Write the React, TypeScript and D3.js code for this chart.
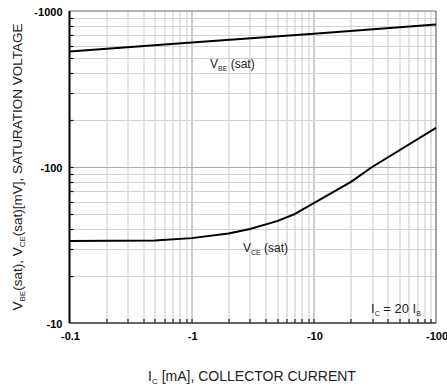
import { useCallback, useEffect, useRef } from 'react';

import { line, scaleLog, select } from 'd3';

// axis ticks
const xTicks = [0.1, 1, 10, 100];
const xTickLabels = ['-0.1', '-1', '-10', '-100'];
const yTicks = [10, 100, 1000];
const yTickLabels = ['-10', '-100', '-1000'];

// V_BE(sat) curve, I_C [mA] vs mV
const vbeCurrent = [0.1, 1, 10, 100];
const vbeVoltage = [550, 628, 715, 820];

// V_CE(sat) curve, I_C [mA] vs mV
const vceCurrent = [0.1, 0.5, 1, 2, 3, 5, 7, 20, 30, 100];
const vceVoltage = [33.6, 33.8, 35, 37.5, 40, 45, 50, 80, 100, 178];

export default function App() {
  const containerRef = useRef<HTMLDivElement>(null);

  const initChart = useCallback(() => {
    const container = containerRef.current;
    if (!container) return;

    const div = select(container);
    div.select('svg').remove();

    const W = 447,
      H = 389;
    const margin = { top: 11, right: 11, bottom: 66, left: 69.5 };
    const width = W - margin.left - margin.right,
      height = H - margin.top - margin.bottom;

    const svg = div
      .append('svg')
      .attr('width', W)
      .attr('height', H)
      .style('position', 'absolute')
      .style('left', '0px')
      .style('top', '0px')
      .style('font-family', '"Liberation Sans", Arial, sans-serif');

    svg.append('rect').attr('width', W).attr('height', H).attr('fill', 'white');

    const g = svg
      .append('g')
      .attr('transform', `translate(${margin.left},${margin.top})`);

    const x = scaleLog().domain([0.1, 100]).range([0, width]);
    const y = scaleLog().domain([10, 1000]).range([height, 0]);

    const xMinor = x.ticks();
    const yMinor = y.ticks();
    const isMajor = (v: number) => Math.abs(Math.log10(v) - Math.round(Math.log10(v))) < 1e-6;

    // grid
    g.append('g')
      .selectAll('line')
      .data(xMinor.filter((v) => v > 0.1 && v < 100))
      .join('line')
      .attr('x1', (d) => Math.round(x(d)) + 0.5)
      .attr('x2', (d) => Math.round(x(d)) + 0.5)
      .attr('y1', 0)
      .attr('y2', height)
      .attr('stroke', (d) => (isMajor(d) ? '#aaaaaa' : '#d2d2d2'))
      .attr('stroke-width', 1.2);

    g.append('g')
      .selectAll('line')
      .data(yMinor.filter((v) => v > 10 && v < 1000))
      .join('line')
      .attr('y1', (d) => Math.round(y(d)) + 0.5)
      .attr('y2', (d) => Math.round(y(d)) + 0.5)
      .attr('x1', 0)
      .attr('x2', width)
      .attr('stroke', (d) => (isMajor(d) ? '#aaaaaa' : '#d2d2d2'))
      .attr('stroke-width', 1.2);

    // frame
    g.append('line')
      .attr('x1', 0).attr('x2', width).attr('y1', 0).attr('y2', 0)
      .attr('stroke', '#999').attr('stroke-width', 1.5);
    g.append('line')
      .attr('x1', width).attr('x2', width).attr('y1', 0).attr('y2', height)
      .attr('stroke', '#888').attr('stroke-width', 1.5);
    g.append('line')
      .attr('x1', 0).attr('x2', width).attr('y1', height).attr('y2', height)
      .attr('stroke', '#666').attr('stroke-width', 2);
    g.append('line')
      .attr('x1', 0).attr('x2', 0).attr('y1', 0).attr('y2', height)
      .attr('stroke', '#000').attr('stroke-width', 2);

    // inner ticks
    g.append('g')
      .selectAll('line')
      .data(xMinor.filter((v) => v > 0.1 && v < 100))
      .join('line')
      .attr('x1', (d) => Math.round(x(d)) + 0.5)
      .attr('x2', (d) => Math.round(x(d)) + 0.5)
      .attr('y1', height)
      .attr('y2', height - 4)
      .attr('stroke', '#222')
      .attr('stroke-width', 1.2);

    g.append('g')
      .selectAll('line')
      .data(yMinor.filter((v) => v > 10 && v < 1000))
      .join('line')
      .attr('y1', (d) => Math.round(y(d)) + 0.5)
      .attr('y2', (d) => Math.round(y(d)) + 0.5)
      .attr('x1', 0)
      .attr('x2', 4)
      .attr('stroke', '#111')
      .attr('stroke-width', 1.2);

    // tick labels
    g.append('g')
      .selectAll('text')
      .data(xTicks)
      .join('text')
      .attr('x', (d) => x(d) + 1)
      .attr('y', height + 17)
      .attr('text-anchor', 'middle')
      .attr('font-size', 11)
      .attr('font-weight', 'bold')
      .text((_, i) => xTickLabels[i]);

    g.append('g')
      .selectAll('text')
      .data(yTicks)
      .join('text')
      .attr('x', -7)
      .attr('y', (d) => y(d) + 5)
      .attr('text-anchor', 'end')
      .attr('font-size', 11)
      .attr('font-weight', 'bold')
      .text((_, i) => yTickLabels[i]);

    // curves
    g.append('path')
      .attr(
        'd',
        line<number>()
          .x((d) => x(d))
          .y((_, i) => y(vbeVoltage[i]))(vbeCurrent)
      )
      .attr('fill', 'none')
      .attr('stroke', '#000')
      .attr('stroke-width', 2);

    g.append('path')
      .attr(
        'd',
        line<number>()
          .x((d) => x(d))
          .y((_, i) => y(vceVoltage[i]))(vceCurrent)
      )
      .attr('fill', 'none')
      .attr('stroke', '#000')
      .attr('stroke-width', 2)
      .attr('stroke-linejoin', 'round');

    // curve labels
    const vbeLabel = svg
      .append('text')
      .attr('x', 210)
      .attr('y', 68)
      .attr('font-size', 12)
      .attr('fill', '#222');
    vbeLabel.append('tspan').text('V');
    vbeLabel.append('tspan').attr('font-size', 7).attr('dy', 3).text('BE');
    vbeLabel.append('tspan').attr('dy', -3).text(' (sat)');

    const vceLabel = svg
      .append('text')
      .attr('x', 243)
      .attr('y', 252)
      .attr('font-size', 12)
      .attr('fill', '#222');
    vceLabel.append('tspan').text('V');
    vceLabel.append('tspan').attr('font-size', 7).attr('dy', 3).text('CE');
    vceLabel.append('tspan').attr('dy', -3).text(' (sat)');

    const condLabel = svg
      .append('text')
      .attr('x', 371)
      .attr('y', 313)
      .attr('font-size', 13)
      .attr('fill', '#222');
    condLabel.append('tspan').text('I');
    condLabel.append('tspan').attr('font-size', 7).attr('dy', 3).text('C');
    condLabel.append('tspan').attr('dy', -3).text(' = 20 I');
    condLabel.append('tspan').attr('font-size', 7).attr('dy', 3).text('B');

    // axis titles
    const xTitle = svg
      .append('text')
      .attr('x', 252)
      .attr('y', 381)
      .attr('text-anchor', 'middle')
      .attr('font-size', 14)
      .attr('fill', '#222');
    xTitle.append('tspan').text('I');
    xTitle.append('tspan').attr('font-size', 8).attr('dy', 3).text('C');
    xTitle.append('tspan').attr('dy', -3).text(' [mA], COLLECTOR CURRENT');

    const yTitle = svg
      .append('text')
      .attr('transform', `translate(22,${(margin.top + margin.top + height) / 2}) rotate(-90)`)
      .attr('text-anchor', 'middle')
      .attr('font-size', 13.5)
      .attr('fill', '#222');
    yTitle.append('tspan').text('V');
    yTitle.append('tspan').attr('font-size', 8).attr('dy', 3).text('BE');
    yTitle.append('tspan').attr('dy', -3).text('(sat), V');
    yTitle.append('tspan').attr('font-size', 8).attr('dy', 3).text('CE');
    yTitle.append('tspan').attr('dy', -3).text('(sat)[mV], SATURATION VOLTAGE');
  }, []);

  const destroyChart = useCallback(() => {
    const container = containerRef.current;
    if (!container) return;
    select(container).select('svg').remove();
  }, []);

  useEffect(() => {
    initChart();
    return destroyChart;
  }, [destroyChart, initChart]);

  return <div ref={containerRef} />;
}
